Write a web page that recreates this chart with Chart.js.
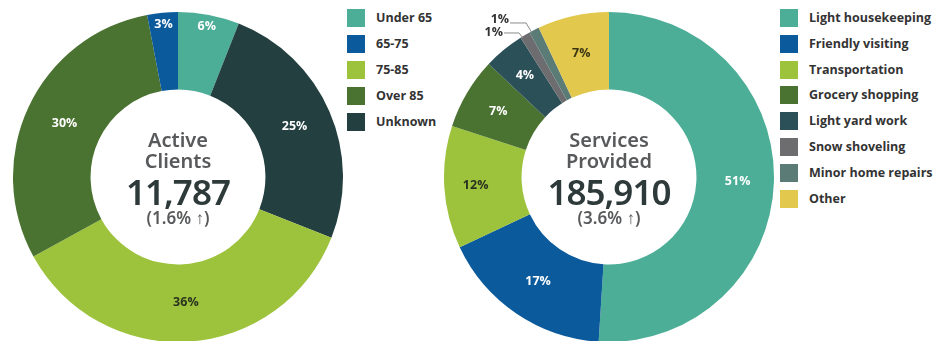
<!DOCTYPE html>
<html>
<head>
<meta charset="utf-8">
<script src="https://cdn.jsdelivr.net/npm/chart.js@4.4.1/dist/chart.umd.min.js"></script>
<style>
html,body{margin:0;padding:0;background:#fff;width:937px;height:341px;overflow:hidden;font-family:"Open Sans",sans-serif;}
canvas{position:absolute;}
.ctext{position:absolute;width:200px;text-align:center;white-space:nowrap;font-family:"Noto Sans","Open Sans",sans-serif;}
.lg{position:absolute;white-space:nowrap;font-weight:700;font-size:12.5px;color:#333;line-height:18px;}
.lg span{display:inline-block;width:18px;height:18px;vertical-align:top;margin-right:11px;}
</style>
</head>
<body>
<canvas id="c1" width="330" height="330" style="left:13px;top:12px"></canvas>
<canvas id="c2" width="330" height="330" style="left:444px;top:12px"></canvas>
<div id="overlay"></div>
<script>
// ---- Data: Active Clients (slice order, clockwise from top) ----
const clientCategories = ['Under 65', 'Unknown', '75-85', 'Over 85', '65-75'];
const clientValues = [6, 25, 36, 30, 3];
const clientLegendOrder = ['Under 65', '65-75', '75-85', 'Over 85', 'Unknown'];
const clientTitle = ['Active', 'Clients'];
const clientTotal = '11,787';
const clientChange = '(1.6% \u2191)';

// ---- Data: Services Provided ----
const serviceCategories = ['Light housekeeping', 'Friendly visiting', 'Transportation', 'Grocery shopping', 'Light yard work', 'Snow shoveling', 'Minor home repairs', 'Other'];
const serviceValues = [51, 17, 12, 7, 4, 1, 1, 7];
const serviceLegendOrder = serviceCategories.slice();
const serviceTitle = ['Services', 'Provided'];
const serviceTotal = '185,910';
const serviceChange = '(3.6% \u2191)';

// ---- Styles ----
const clientColors = ['#4cae97', '#233f3f', '#9dc23c', '#4a7230', '#0b5b9c'];
const clientLabelColors = ['#fff', '#fff', '#2a3320', '#fff', '#fff'];
const clientLabelRadius = [0.93, 0.77, 0.76, 0.76, 0.93];

const serviceColors = ['#4cae97', '#0b5b9c', '#9dc23c', '#4a7230', '#2b5058', '#6d6d6f', '#5b7b76', '#e2c84c'];
const serviceLabelColors = ['#fff', '#fff', '#2a3320', '#fff', '#fff', '#333', '#333', '#3a3413'];
const serviceLabelRadius = [0.78, 0.765, 0.81, 0.78, 0.8, 0, 0, 0.77];
const serviceExternal = {
  5: {elbowDx: -4, elbowDy: -5, lineLen: 15, textDy: -1},
  6: {elbowDx: -6, elbowDy: -10, lineLen: 16, textDy: -4}
};

const sliceLabels = {
  id: 'sliceLabels',
  afterDatasetsDraw(chart, args, opts) {
    const ctx = chart.ctx;
    const meta = chart.getDatasetMeta(0);
    const ds = chart.data.datasets[0];
    ctx.save();
    ctx.font = '700 12.5px "Open Sans", sans-serif';
    meta.data.forEach((arc, i) => {
      const p = arc.getProps(['x', 'y', 'startAngle', 'endAngle', 'outerRadius'], true);
      const mid = (p.startAngle + p.endAngle) / 2;
      const text = ds.data[i] + '%';
      const ext = opts.external && opts.external[i];
      ctx.fillStyle = opts.colors[i];
      if (ext) {
        const x0 = p.x + p.outerRadius * Math.cos(mid) - 2;
        const y0 = p.y + p.outerRadius * Math.sin(mid) + 3;
        const ex = x0 + ext.elbowDx, ey = y0 + ext.elbowDy;
        ctx.strokeStyle = '#8a8a8a';
        ctx.lineWidth = 1;
        ctx.beginPath();
        ctx.moveTo(x0, y0);
        ctx.lineTo(ex, ey);
        ctx.lineTo(ex - ext.lineLen, ey);
        ctx.stroke();
        ctx.textAlign = 'right';
        ctx.textBaseline = 'middle';
        ctx.fillText(text, ex - ext.lineLen - 1, ey + ext.textDy);
      } else {
        const r = p.outerRadius * opts.radius[i];
        ctx.textAlign = 'center';
        ctx.textBaseline = 'middle';
        ctx.fillText(text, p.x + r * Math.cos(mid), p.y + r * Math.sin(mid));
      }
    });
    ctx.restore();
  }
};

function makeChart(id, labels, values, colors, labelColors, radius, external) {
  return new Chart(document.getElementById(id), {
    type: 'doughnut',
    data: {labels: labels, datasets: [{data: values, backgroundColor: colors, borderWidth: 0}]},
    options: {
      responsive: false, maintainAspectRatio: false, animation: false, events: [],
      cutout: '53%',
      layout: {padding: 0},
      plugins: {
        legend: {display: false}, tooltip: {enabled: false},
        sliceLabels: {colors: labelColors, radius: radius, external: external}
      }
    },
    plugins: [sliceLabels]
  });
}

const chart1 = makeChart('c1', clientCategories, clientValues, clientColors, clientLabelColors, clientLabelRadius, null);
const chart2 = makeChart('c2', serviceCategories, serviceValues, serviceColors, serviceLabelColors, serviceLabelRadius, serviceExternal);

const overlay = document.getElementById('overlay');
function addCenter(cx, title, total, change) {
  const lines = [
    {t: title[0], y: 140, size: 20, color: '#58595b', weight: 600},
    {t: title[1], y: 161, size: 20, color: '#58595b', weight: 600},
    {t: total, y: 192, size: 35, color: '#2e3a3a', weight: 600},
    {t: change, y: 218, size: 17, color: '#58595b', weight: 600}
  ];
  lines.forEach(l => {
    const d = document.createElement('div');
    d.className = 'ctext';
    d.textContent = l.t;
    d.style.left = (cx - 100) + 'px';
    d.style.top = (l.y - 20) + 'px';
    d.style.lineHeight = '40px';
    d.style.fontSize = l.size + 'px';
    d.style.color = l.color;
    d.style.fontWeight = l.weight;
    if (l.size > 30) d.style.letterSpacing = '-1px';
    overlay.appendChild(d);
  });
}
addCenter(178, clientTitle, clientTotal, clientChange);
addCenter(609, serviceTitle, serviceTotal, serviceChange);

function addLegend(chart, order, x, y0, step) {
  const labels = chart.data.labels;
  const cols = chart.data.datasets[0].backgroundColor;
  order.forEach((name, k) => {
    const i = labels.indexOf(name);
    const d = document.createElement('div');
    d.className = 'lg';
    d.style.left = x + 'px';
    d.style.top = (y0 + k * step) + 'px';
    const sw = document.createElement('span');
    sw.style.background = cols[i];
    d.appendChild(sw);
    d.appendChild(document.createTextNode(name));
    overlay.appendChild(d);
  });
}
addLegend(chart1, clientLegendOrder, 347, 9, 26);
addLegend(chart2, serviceLegendOrder, 780, 9, 25.8);
</script>
</body>
</html>
